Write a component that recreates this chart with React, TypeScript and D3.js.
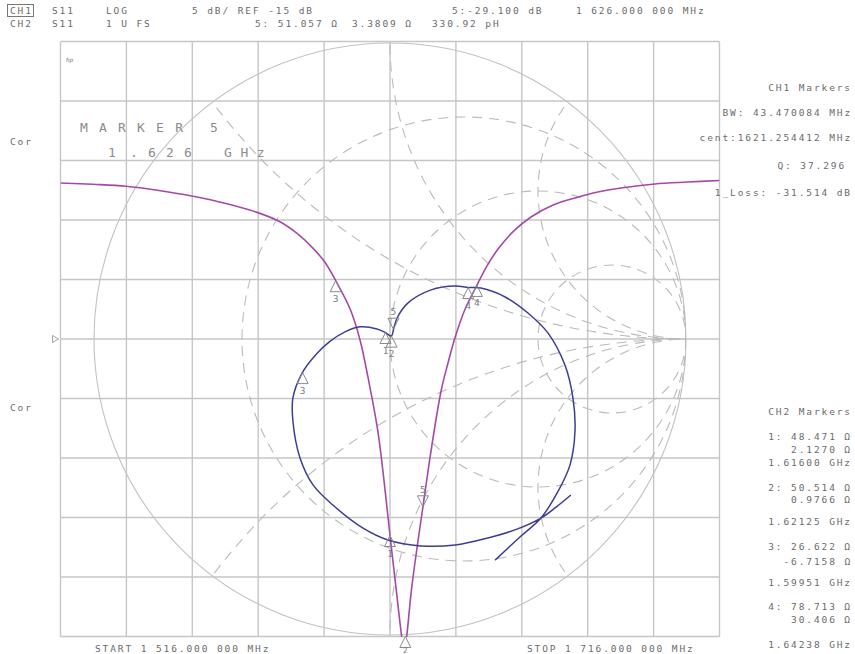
import { useRef, useEffect } from 'react';
import * as d3 from 'd3';

// sweep and CH1 scale (5 dB/div, ref -15 dB at centre line)
const startMHz = 1516;
const stopMHz = 1716;
const refDb = -15;
const dbPerDiv = 5;
const z0 = 50;

// CH1 S11 log mag trace
const magFreq = [1516, 1525.9, 1535.9, 1545.9, 1556.2, 1566.2, 1575.9, 1582.6, 1587.8, 1592.6, 1596.3, 1599.6,
  1603.9, 1606.9, 1609.3, 1612.3, 1615.0, 1616.0, 1618.0, 1619.55, 1620.3, 1621.07, 1622.5, 1624.2, 1626.0,
  1628.4, 1631.5, 1633.6, 1635.7, 1638.8, 1642.1, 1645.4, 1648.8, 1653.6, 1658.8, 1665.5, 1672.2, 1679.1,
  1686.1, 1696.4, 1706.4, 1716];
const magDb = [-1.89, -2.0, -2.16, -2.52, -3.0, -3.61, -4.38, -5.15, -6.13, -7.36, -8.57, -10.13,
  -12.48, -15.08, -18.19, -22.73, -28.95, -31.51, -36.34, -40.04, -41.5, -40.0, -36.1, -32.56, -29.1,
  -24.5, -19.37, -17.02, -14.92, -12.48, -10.63, -8.87, -7.44, -5.92, -4.75, -3.74, -3.15, -2.65,
  -2.31, -1.97, -1.81, -1.68];

// CH2 S11 Smith trace, reflection coefficient (re, im)
const smithRe = [0.611, 0.561, 0.510, 0.422, 0.331, 0.220, 0.105, -0.007, -0.091, -0.193, -0.260, -0.304,
  -0.328, -0.328, -0.297, -0.250, -0.203, -0.152, -0.101, -0.044, -0.016, 0.005, 0.012, 0.024, 0.061,
  0.139, 0.220, 0.264, 0.307, 0.389, 0.466, 0.534, 0.591, 0.618, 0.625, 0.608, 0.568, 0.510, 0.439, 0.355];
const smithIm = [-0.527, -0.568, -0.605, -0.645, -0.672, -0.696, -0.699, -0.679, -0.639, -0.561, -0.493, -0.402,
  -0.277, -0.199, -0.115, -0.052, -0.008, 0.024, 0.041, 0.034, 0.022, 0.010, 0.033, 0.071, 0.122,
  0.166, 0.179, 0.174, 0.172, 0.142, 0.088, 0.020, -0.088, -0.199, -0.311, -0.426, -0.514, -0.605, -0.669, -0.747];

// Smith graticule
const resistanceCircles = [1 / 3, 1, 3];
const reactanceArcs = [0.5, 1, 2, -0.5, -1, -2];

// CH1 markers
const ch1MarkerIds = ['3', '1', '2', '5', '4'];
const ch1MarkerFreq = [1599.51, 1616.0, 1621.25, 1626.0, 1642.38];
const ch1MarkerDb = [-10.1, -31.514, -42, -29.1, -10.5];

// CH2 markers (ohms)
const ch2MarkerIds = ['1', '2', '3', '4', '5'];
const ch2MarkerR = [48.471, 50.514, 26.622, 78.713, 51.057];
const ch2MarkerX = [2.127, 0.9766, -6.7158, 30.406, 3.3809];

const ch1Readout = ['CH1 Markers', 'BW: 43.470084 MHz', 'cent:1621.254412 MHz', 'Q: 37.296', '1_Loss: -31.514 dB'];
const ch2Readout = ['CH2 Markers', '1: 48.471 Ω', '2.1270 Ω', '1.61600 GHz', '2: 50.514 Ω', '0.9766 Ω',
  '1.62125 GHz', '3: 26.622 Ω', '-6.7158 Ω', '1.59951 GHz', '4: 78.713 Ω', '30.406 Ω', '1.64238 GHz'];

const MONO = '"DejaVu Sans Mono", monospace';

export default function App() {
  const svgRef = useRef<SVGSVGElement>(null);

  useEffect(() => {
    const width = 855;
    const height = 654;
    const left = 60.5, right = 719.5, top = 41.5, bottom = 636.5;

    const svg = d3.select(svgRef.current);
    svg.selectAll('*').remove();
    svg.attr('width', width).attr('height', height).attr('viewBox', `0 0 ${width} ${height}`);
    svg.append('rect').attr('width', width).attr('height', height).attr('fill', '#ffffff');

    const x = d3.scaleLinear().domain([startMHz, stopMHz]).range([left, right]);
    const y = d3.scaleLinear().domain([refDb - 5 * dbPerDiv, refDb + 5 * dbPerDiv]).range([bottom, top]);

    const defs = svg.append('defs');
    defs.append('clipPath').attr('id', 'grid-clip')
      .append('rect').attr('x', left).attr('y', top - 1).attr('width', right - left).attr('height', bottom - top + 1.5);

    // rectangular graticule
    const grid = svg.append('g').attr('stroke', '#c6c6c6').attr('stroke-width', 1.4);
    const fTicks = d3.range(11).map(i => startMHz + i * (stopMHz - startMHz) / 10);
    const dbTicks = d3.range(11).map(i => refDb - 5 * dbPerDiv + i * dbPerDiv);
    grid.selectAll('line.v').data(fTicks).enter().append('line')
      .attr('x1', d => x(d)).attr('x2', d => x(d)).attr('y1', top).attr('y2', bottom);
    grid.selectAll('line.h').data(dbTicks).enter().append('line')
      .attr('x1', left).attr('x2', right).attr('y1', d => y(d)).attr('y2', d => y(d));

    // Smith chart
    const cx = x((startMHz + stopMHz) / 2);
    const cy = y(refDb);
    const R = 296;
    const gx = d3.scaleLinear().domain([-1, 1]).range([cx - R, cx + R]);
    const gy = d3.scaleLinear().domain([-1, 1]).range([cy + R, cy - R]);

    defs.append('clipPath').attr('id', 'smith-clip')
      .append('circle').attr('cx', cx).attr('cy', cy).attr('r', R);

    svg.append('circle').attr('cx', cx).attr('cy', cy).attr('r', R)
      .attr('fill', 'none').attr('stroke', '#c2c2c2').attr('stroke-width', 1.1);

    const dashed = svg.append('g').attr('clip-path', 'url(#smith-clip)')
      .attr('fill', 'none').attr('stroke', '#bababa').attr('stroke-width', 1.1).attr('stroke-dasharray', '10 7');
    dashed.selectAll('circle.r').data(resistanceCircles).enter().append('circle')
      .attr('cx', r => gx(r / (1 + r))).attr('cy', cy).attr('r', r => gx(1 / (1 + r)) - gx(0));
    dashed.selectAll('circle.x').data(reactanceArcs).enter().append('circle')
      .attr('cx', gx(1)).attr('cy', v => gy(1 / v)).attr('r', v => gx(Math.abs(1 / v)) - gx(0));

    // reference pointer on the left edge
    svg.append('path').attr('d', `M${left - 8},${cy - 3.5} L${left - 2},${cy} L${left - 8},${cy + 3.5} Z`)
      .attr('fill', 'none').attr('stroke', '#999').attr('stroke-width', 0.9);

    // CH1 trace
    const magLine = d3.line<number>()
      .x((d, i) => x(magFreq[i]))
      .y(d => y(d))
      .curve(d3.curveCatmullRom.alpha(0.5));
    svg.append('path').datum(magDb)
      .attr('clip-path', 'url(#grid-clip)')
      .attr('d', magLine)
      .attr('fill', 'none').attr('stroke', '#a34aa8').attr('stroke-width', 1.6);

    // CH2 trace
    const smithPts = smithRe.map((re, i) => [re, smithIm[i]]);
    const smithLine = d3.line<number[]>()
      .x(d => gx(d[0]))
      .y(d => gy(d[1]))
      .curve(d3.curveCatmullRom.alpha(0.5));
    svg.append('path').datum(smithPts)
      .attr('d', smithLine)
      .attr('fill', 'none').attr('stroke', '#3d3d96').attr('stroke-width', 1.5);

    // markers
    const marks = svg.append('g');
    const drawMarker = (px: number, py: number, id: string, active: boolean, labelY?: number, size = 9.5) => {
      const d = active
        ? `M${px},${py} l-5.5,-11 h11 Z`
        : `M${px},${py} l-5.5,11 h11 Z`;
      marks.append('path').attr('d', d)
        .attr('fill', 'none').attr('stroke', '#8a8a8a').attr('stroke-width', 1);
      marks.append('text')
        .attr('x', px).attr('y', labelY ?? (active ? py - 14 : py + 21))
        .attr('text-anchor', 'middle')
        .attr('font-family', MONO).attr('font-size', size).attr('fill', '#808080')
        .text(id);
    };

    ch1MarkerIds.forEach((id, i) => {
      const py = Math.min(y(ch1MarkerDb[i]), bottom);
      if (id === '2') drawMarker(x(ch1MarkerFreq[i]) - 2, py, id, false, 653, 7.5);
      else drawMarker(x(ch1MarkerFreq[i]), py, id, id === '5');
    });

    ch2MarkerIds.forEach((id, i) => {
      const zr = ch2MarkerR[i] / z0;
      const zi = ch2MarkerX[i] / z0;
      const den = (zr + 1) * (zr + 1) + zi * zi;
      const gr = (zr * zr + zi * zi - 1) / den;
      const gi = (2 * zi) / den;
      drawMarker(gx(gr), gy(gi), id, id === '5');
    });

    // text
    const txt = (tx: number, ty: number, s: string, anchor = 'start', size = 9.5, spacing = 1.9, fill = '#6b6b6b') =>
      svg.append('text').attr('x', tx).attr('y', ty)
        .attr('text-anchor', anchor)
        .attr('font-family', MONO).attr('font-size', size)
        .attr('letter-spacing', spacing)
        .attr('fill', fill)
        .text(s);

    // header
    svg.append('rect').attr('x', 7.5).attr('y', 4.5).attr('width', 26).attr('height', 12)
      .attr('fill', 'none').attr('stroke', '#777').attr('stroke-width', 1);
    txt(10, 14, 'CH1');
    txt(52, 14, 'S11');
    txt(106, 14, 'LOG');
    txt(192, 14, '5 dB/ REF -15 dB');
    txt(452, 14, '5:-29.100 dB');
    txt(576, 14, '1 626.000 000 MHz');
    txt(10, 27, 'CH2');
    txt(52, 27, 'S11');
    txt(106, 27, '1 U FS');
    txt(255, 27, '5: 51.057 Ω');
    txt(352, 27, '3.3809 Ω');
    txt(432, 27, '330.92 pH');

    // left side labels
    txt(10, 145, 'Cor');
    txt(10, 411, 'Cor');
    svg.append('text').attr('x', 66).attr('y', 62)
      .attr('font-family', MONO).attr('font-size', 6).attr('font-style', 'italic').attr('fill', '#777')
      .text('hp');

    // active marker annotation
    txt(80, 132, 'MARKER', 'start', 13, 11.2, '#8c8c8c');
    txt(210, 132, '5', 'start', 13, 0, '#8c8c8c');
    txt(108, 157, '1', 'start', 13, 0, '#8c8c8c');
    txt(130, 157, '.', 'start', 13, 0, '#8c8c8c');
    txt(148, 157, '626', 'start', 13, 10.2, '#8c8c8c');
    txt(224, 157, 'GHz', 'start', 13, 8.6, '#8c8c8c');

    // marker readouts
    const ch1Y = [91, 116, 141, 169, 196];
    ch1Readout.forEach((s, i) => txt(i === 3 ? 846 : 852, ch1Y[i], s, 'end'));
    const ch2Y = [415, 440, 453, 466, 491, 503, 525, 550, 565, 586, 610, 623, 648];
    ch2Readout.forEach((s, i) => txt(852, ch2Y[i], s, 'end'));

    // sweep limits
    txt(95, 652, 'START 1 516.000 000 MHz');
    txt(527, 652, 'STOP 1 716.000 000 MHz');
  }, []);

  return (
    <div style={{ position: 'absolute', left: 0, top: 0 }}>
      <svg ref={svgRef} width={855} height={654}></svg>
    </div>
  );
}
